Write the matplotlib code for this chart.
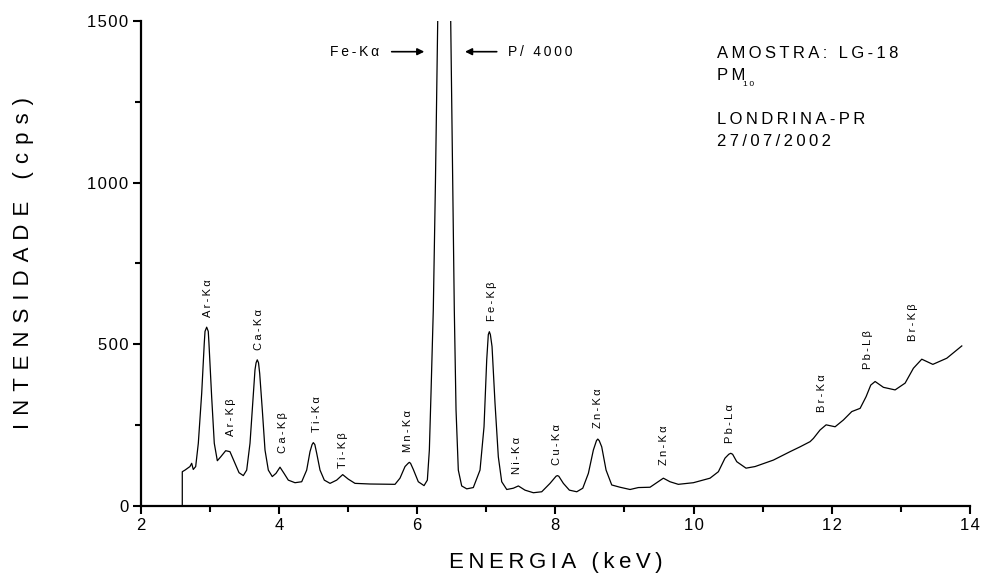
"""XRF spectrum of a PM10 aerosol sample (LG-18, Londrina-PR)."""

import matplotlib

matplotlib.use("Agg")
import matplotlib.pyplot as plt
import numpy as np

energy_kev = [
    2.602, 2.602, 2.641, 2.713, 2.738, 2.761, 2.796, 2.834, 2.883, 2.920,
    2.931, 2.955, 2.978, 2.988, 3.027, 3.065, 3.109, 3.158, 3.230, 3.292,
    3.355, 3.423, 3.485, 3.534, 3.582, 3.621, 3.654, 3.670, 3.687, 3.705,
    3.722, 3.760, 3.799, 3.847, 3.904, 3.958, 4.016, 4.074, 4.136, 4.233,
    4.330, 4.402, 4.450, 4.480, 4.498, 4.520, 4.547, 4.595, 4.657, 4.740,
    4.836, 4.923, 5.004, 5.101, 5.318, 5.680, 5.752, 5.825, 5.870, 5.887,
    5.905, 5.945, 6.017, 6.100, 6.148, 6.177, 6.201, 6.234, 6.265, 6.298,
    6.400, 6.486, 6.515, 6.538, 6.563, 6.596, 6.645, 6.718, 6.813, 6.910,
    6.968, 7.007, 7.030, 7.045, 7.060, 7.084, 7.127, 7.175, 7.224, 7.297,
    7.392, 7.465, 7.561, 7.682, 7.803, 7.923, 8.010, 8.029, 8.050, 8.116,
    8.203, 8.310, 8.397, 8.478, 8.550, 8.595, 8.614, 8.635, 8.671, 8.734,
    8.816, 8.936, 9.081, 9.201, 9.370, 9.467, 9.563, 9.659, 9.779, 9.997,
    10.238, 10.359, 10.455, 10.510, 10.538, 10.565, 10.625, 10.759, 10.890, 11.155,
    11.396, 11.541, 11.686, 11.734, 11.830, 11.918, 12.048, 12.168, 12.289, 12.410,
    12.496, 12.564, 12.627, 12.747, 12.916, 13.061, 13.181, 13.302, 13.462, 13.664,
    13.881,
]
intensity_cps = [
    0, 106, 111, 122, 132, 113, 122, 194, 349, 503,
    540, 553, 540, 503, 338, 194, 140, 152, 171, 168,
    137, 103, 94, 111, 194, 318, 421, 443, 452, 443,
    410, 297, 173, 111, 91, 101, 120, 101, 80, 72,
    75, 111, 168, 190, 196, 190, 163, 111, 80, 70,
    80, 97, 83, 70, 68, 67, 86, 122, 132, 135,
    132, 113, 75, 63, 80, 173, 349, 606, 1000, 1500,
    4000, 1500, 1000, 606, 297, 111, 62, 53, 57, 111,
    245, 452, 530, 539, 530, 493, 318, 152, 75, 51,
    55, 62, 49, 41, 44, 70, 92, 94, 92, 70,
    49, 44, 55, 101, 173, 202, 207, 202, 183, 111,
    65, 58, 51, 57, 58, 72, 86, 75, 67, 72,
    86, 106, 148, 160, 163, 160, 137, 117, 122, 142,
    168, 183, 199, 209, 235, 251, 245, 266, 292, 302,
    338, 374, 385, 367, 359, 380, 426, 454, 438, 457,
    495,
]

# emission lines marked above the peaks
line_names = [
    "Ar-Kα", "Ar-Kβ", "Ca-Kα", "Ca-Kβ", "Ti-Kα", "Ti-Kβ", "Mn-Kα", "Fe-Kβ",
    "Ni-Kα", "Cu-Kα", "Zn-Kα", "Zn-Kα", "Pb-Lα", "Br-Kα", "Pb-Lβ", "Br-Kβ",
]
line_kev = [
    2.977, 3.30, 3.717, 4.064, 4.547, 4.932, 5.873, 7.088,
    7.450, 8.029, 8.622, 9.573, 10.528, 11.855, 12.530, 13.181,
]
line_top_cps = [
    585, 217, 482, 163, 230, 117, 168, 572,
    98, 127, 240, 127, 194, 292, 424, 510,
]

x_ticks = [2, 4, 6, 8, 10, 12, 14]
y_ticks = [0, 500, 1000, 1500]

SANS = ["Liberation Sans", "DejaVu Sans"]
plt.rcParams["font.family"] = SANS


def spaced(text, sep="\u2009"):
    """Spread the letters of a label apart."""
    return sep.join(text)


fig = plt.figure(figsize=(9.81, 5.81), dpi=100)
ax = fig.add_axes([0.1434, 0.1291, 0.8454, 0.8348])

ax.plot(energy_kev, intensity_cps, color="black", lw=0.9)

ax.set_xlim(2, 14)
ax.set_ylim(0, 1500)
ax.set_xticks(x_ticks)
ax.set_yticks(y_ticks)
ax.set_xticks(np.arange(3, 14, 2), minor=True)
ax.set_yticks([250, 750, 1250], minor=True)
ax.set_xticklabels([spaced(str(t), "\u200a") for t in x_ticks])
ax.set_yticklabels([spaced(str(t), "\u200a") for t in y_ticks])

for side in ("top", "right"):
    ax.spines[side].set_visible(False)
for side in ("left", "bottom"):
    ax.spines[side].set_linewidth(1.6)
ax.tick_params(which="major", direction="out", length=6, width=1.5,
               labelsize=12, color="black", pad=3)
ax.tick_params(which="minor", direction="out", length=4, width=1.5, color="black")

ax.set_xlabel(spaced("ENERGIA (keV)"), fontsize=16, labelpad=13)
ax.set_ylabel(spaced("INTENSIDADE (cps)", " \u200a"), fontsize=16, labelpad=38)

for name, x, y in zip(line_names, line_kev, line_top_cps):
    ax.text(x, y, spaced(name), rotation=90, ha="center", va="bottom", fontsize=8)

# Fe-Ka peak is off scale
arrow = dict(arrowstyle="-|>", color="black", lw=1.2, mutation_scale=10,
             shrinkA=0, shrinkB=0)
ax.annotate("", xy=(6.104, 1405), xytext=(5.632, 1405), arrowprops=arrow)
ax.annotate("", xy=(6.693, 1405), xytext=(7.152, 1405), arrowprops=arrow)
ax.text(5.449, 1405, spaced("Fe-Kα"), ha="right", va="center", fontsize=10)
ax.text(7.316, 1405, spaced("P/ 4000"), ha="left", va="center", fontsize=10)

# sample info
ax.text(10.336, 1400, spaced("AMOSTRA: LG-18"), ha="left", va="center", fontsize=12)
ax.text(10.336, 1330, spaced("PM"), ha="left", va="center", fontsize=12)
ax.text(10.72, 1303, spaced("10"), ha="left", va="center", fontsize=6)
ax.text(10.336, 1194, spaced("LONDRINA-PR"), ha="left", va="center", fontsize=12)
ax.text(10.336, 1127, spaced("27/07/2002"), ha="left", va="center", fontsize=12)

fig.savefig("out.png", dpi=100)
